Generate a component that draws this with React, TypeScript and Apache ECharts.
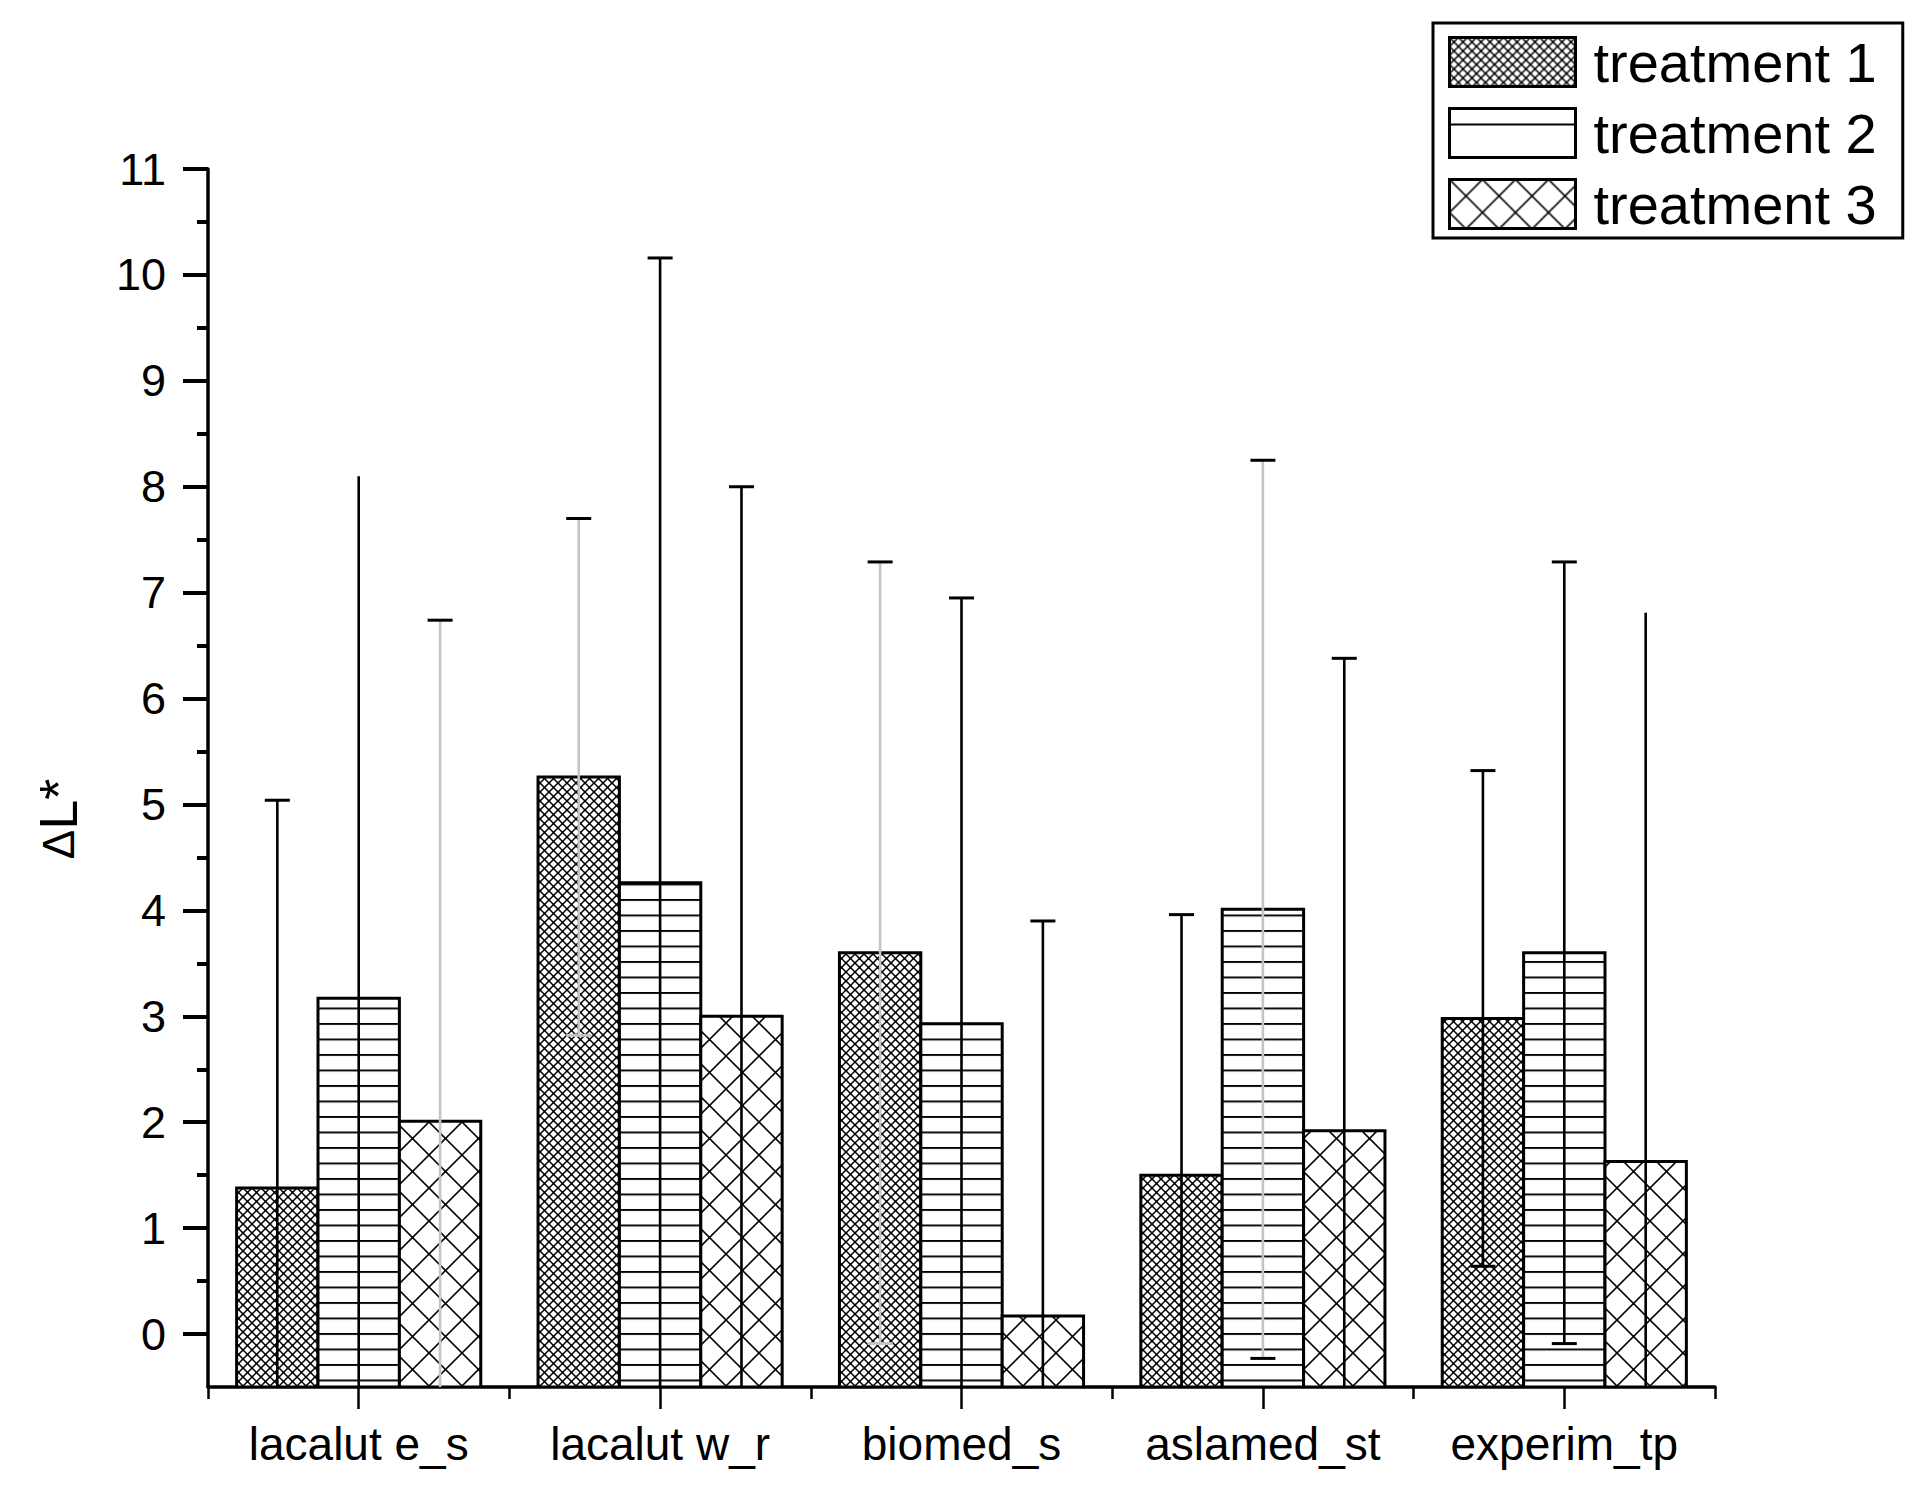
import React, { useEffect, useRef } from 'react';
import * as echarts from 'echarts';

// ---------- data ----------
const categories = ['lacalut e_s', 'lacalut w_r', 'biomed_s', 'aslamed_st', 'experim_tp'];
const seriesNames = ['treatment 1', 'treatment 2', 'treatment 3'];
const treatment1 = [1.38, 5.26, 3.6, 1.5, 2.98];
const treatment2 = [3.17, 4.26, 2.93, 4.01, 3.6];
const treatment3 = [2.01, 3.0, 0.17, 1.92, 1.63];
const sd1 = [3.66, 2.44, 3.69, 2.46, 2.34];
const sd2 = [4.93, 5.9, 4.02, 4.24, 3.69];
const sd3 = [4.73, 5.0, 3.73, 4.46, 5.18];
const yTickValues = [0, 1, 2, 3, 4, 5, 6, 7, 8, 9, 10, 11];
const yMinorTickValues = [0.5, 1.5, 2.5, 3.5, 4.5, 5.5, 6.5, 7.5, 8.5, 9.5, 10.5];
const Y_MIN = -0.5;
const Y_MAX = 11;

// ---------- styles ----------
const FONT = '"Liberation Sans", Arial, Helvetica, sans-serif';
const BLACK = '#000000';
const GRAY = '#c4c4c4';
const errLineTone = [
  [BLACK, GRAY, GRAY, BLACK, BLACK],
  [BLACK, BLACK, BLACK, GRAY, BLACK],
  [GRAY, BLACK, BLACK, BLACK, BLACK],
];
const topCapShown = [
  [true, true, true, true, true],
  [false, true, true, true, true],
  [true, true, true, true, false],
];
const lowCapTone = [
  [BLACK, GRAY, GRAY, BLACK, BLACK],
  [BLACK, BLACK, BLACK, BLACK, BLACK],
  [BLACK, BLACK, BLACK, BLACK, BLACK],
];
const BAR_FRAC = 0.27;
const CAP_W = 25;

function makeCanvas(w: number, h: number) {
  const c = document.createElement('canvas');
  c.width = w;
  c.height = h;
  const ctx = c.getContext('2d') as CanvasRenderingContext2D;
  ctx.fillStyle = '#ffffff';
  ctx.fillRect(0, 0, w, h);
  return { c, ctx };
}

function diagPattern(size: number, lw: number, dots: number) {
  const S = size * 2;
  const { c, ctx } = makeCanvas(S, S);
  ctx.strokeStyle = '#000';
  ctx.lineWidth = lw * 2;
  ctx.beginPath();
  for (const k of [-S, 0, S]) {
    ctx.moveTo(k, 0);
    ctx.lineTo(k + S, S);
    ctx.moveTo(k + S, 0);
    ctx.lineTo(k, S);
  }
  ctx.stroke();
  if (dots > 0) {
    ctx.fillStyle = '#000';
    const r = dots * 2;
    for (const [px, py] of [[0, 0], [S, 0], [0, S], [S, S], [S / 2, S / 2]]) {
      ctx.beginPath();
      ctx.arc(px, py, r, 0, Math.PI * 2);
      ctx.fill();
    }
  }
  return { image: c.toDataURL(), repeat: 'repeat', imageWidth: size, imageHeight: size };
}

function hLinePattern(period: number, lw: number, offset: number) {
  const W = 16;
  const H = Math.round(period * 2);
  const { c, ctx } = makeCanvas(W, H);
  ctx.fillStyle = '#000';
  ctx.fillRect(0, offset * 2, W, lw * 2);
  return { image: c.toDataURL(), repeat: 'repeat', imageWidth: W / 2, imageHeight: H / 2 };
}

export default function App() {
  const ref = useRef<HTMLDivElement>(null);

  useEffect(() => {
    if (!ref.current) return;
    const chart = echarts.init(ref.current, undefined, { renderer: 'svg' });

    const patterns = [diagPattern(9, 1.5, 1.2), hLinePattern(15.5, 2, 0), diagPattern(33, 1.6, 0)];
    const legendT2 = hLinePattern(60, 2, 15);
    const values = [treatment1, treatment2, treatment3];
    const sds = [sd1, sd2, sd3];

    const barSeries = values.map((vals, si) => ({
      type: 'custom',
      name: seriesNames[si],
      xAxisIndex: 0,
      yAxisIndex: 0,
      clip: true,
      z: 2,
      encode: { x: 0, y: 1 },
      itemStyle: { color: patterns[si] },
      data: vals.map((v, i) => [categories[i], v]),
      renderItem: (params: any, api: any) => {
        const cat = api.value(0);
        const val = api.value(1);
        const pt = api.coord([cat, val]);
        const base = api.coord([cat, Y_MIN]);
        const bw = api.size([1, 0])[0] * BAR_FRAC;
        const x = pt[0] + (si - 1.5) * bw;
        return {
          type: 'rect',
          shape: { x, y: pt[1], width: bw, height: base[1] - pt[1] },
          style: { fill: patterns[si], stroke: '#000', lineWidth: 3 },
        };
      },
    }));

    const errSeries = values.map((vals, si) => ({
      type: 'custom',
      name: seriesNames[si] + ' SD',
      xAxisIndex: 0,
      yAxisIndex: 0,
      clip: true,
      z: 3,
      encode: { x: 0, y: 1 },
      data: vals.map((v, i) => [categories[i], v, sds[si][i]]),
      renderItem: (params: any, api: any) => {
        const idx = params.dataIndex;
        const cat = api.value(0);
        const mean = api.value(1);
        const sd = api.value(2);
        const top = api.coord([cat, mean + sd]);
        const bot = api.coord([cat, mean - sd]);
        const bw = api.size([1, 0])[0] * BAR_FRAC;
        const x = top[0] + (si - 1) * bw;
        const children: any[] = [
          {
            type: 'line',
            shape: { x1: x, y1: bot[1], x2: x, y2: top[1] },
            style: { stroke: errLineTone[si][idx], lineWidth: 2.6 },
          },
        ];
        if (topCapShown[si][idx]) {
          children.push({
            type: 'line',
            shape: { x1: x - CAP_W / 2, y1: top[1], x2: x + CAP_W / 2, y2: top[1] },
            style: { stroke: BLACK, lineWidth: 3 },
          });
        }
        if (mean - sd >= Y_MIN) {
          children.push({
            type: 'line',
            shape: { x1: x - CAP_W / 2, y1: bot[1], x2: x + CAP_W / 2, y2: bot[1] },
            style: { stroke: lowCapTone[si][idx], lineWidth: 3 },
          });
        }
        return { type: 'group', children };
      },
    }));

    const axisLineStyle = { color: '#000', width: 3.5 };

    chart.setOption({
      animation: false,
      backgroundColor: '#ffffff',
      grid: {
        left: 208,
        top: 169,
        right: 210,
        bottom: 115,
        containLabel: false,
        outerBoundsMode: 'none',
      },
      legend: {
        orient: 'vertical',
        left: 1433,
        top: 23,
        icon: 'rect',
        itemWidth: 126,
        itemHeight: 49,
        itemGap: 15,
        padding: [11, 26, 6, 15],
        borderColor: '#000',
        borderWidth: 3,
        backgroundColor: '#ffffff',
        selectedMode: false,
        itemStyle: { borderColor: '#000', borderWidth: 3 },
        textStyle: { fontSize: 56, color: '#000', fontFamily: FONT, padding: [0, 0, 0, 13] },
        data: [
          { name: seriesNames[0] },
          { name: seriesNames[1], itemStyle: { color: legendT2 } },
          { name: seriesNames[2] },
        ],
      },
      xAxis: [
        {
          type: 'category',
          data: categories,
          position: 'bottom',
          boundaryGap: true,
          axisLine: { show: true, onZero: false, lineStyle: axisLineStyle },
          axisTick: { show: true, alignWithLabel: false, length: 12, lineStyle: { color: '#000', width: 2.5 } },
          axisLabel: { interval: 0, fontSize: 46, color: '#000', margin: 34, fontFamily: FONT },
          splitLine: { show: false },
        },
        {
          type: 'category',
          data: categories,
          position: 'bottom',
          boundaryGap: true,
          axisLine: { show: false, onZero: false },
          axisTick: { show: true, alignWithLabel: true, interval: 0, length: 22, lineStyle: { color: '#000', width: 2.5 } },
          axisLabel: { show: false },
          splitLine: { show: false },
        },
      ],
      yAxis: [
        {
          type: 'value',
          min: Y_MIN,
          max: Y_MAX,
          position: 'left',
          axisLine: { show: true, onZero: false, lineStyle: axisLineStyle },
          axisTick: { show: true, length: 25, customValues: yTickValues, lineStyle: { color: '#000', width: 4 } },
          axisLabel: { customValues: yTickValues, fontSize: 45, color: '#000', margin: 42, fontFamily: FONT },
          splitLine: { show: false },
        },
        {
          type: 'value',
          min: Y_MIN,
          max: Y_MAX,
          position: 'left',
          axisLine: { show: false, onZero: false },
          axisTick: { show: true, length: 11, customValues: yMinorTickValues, lineStyle: { color: '#000', width: 4 } },
          axisLabel: { show: false },
          splitLine: { show: false },
        },
      ],
      graphic: [
        {
          type: 'text',
          x: 58,
          y: 819,
          rotation: Math.PI / 2,
          style: {
            text: '{d|Δ}{l|L*}',
            fill: '#000',
            font: `54px ${FONT}`,
            textAlign: 'center',
            textVerticalAlign: 'middle',
            rich: {
              d: { fontSize: 44, fontFamily: FONT, fill: '#000' },
              l: { fontSize: 54, fontFamily: FONT, fill: '#000' },
            },
          },
        },
      ],
      series: [...barSeries, ...errSeries],
    });

    return () => chart.dispose();
  }, []);

  return (
    <div
      ref={ref}
      style={{ position: 'absolute', left: 0, top: 0, width: 1925, height: 1502, background: '#fff' }}
    />
  );
}
